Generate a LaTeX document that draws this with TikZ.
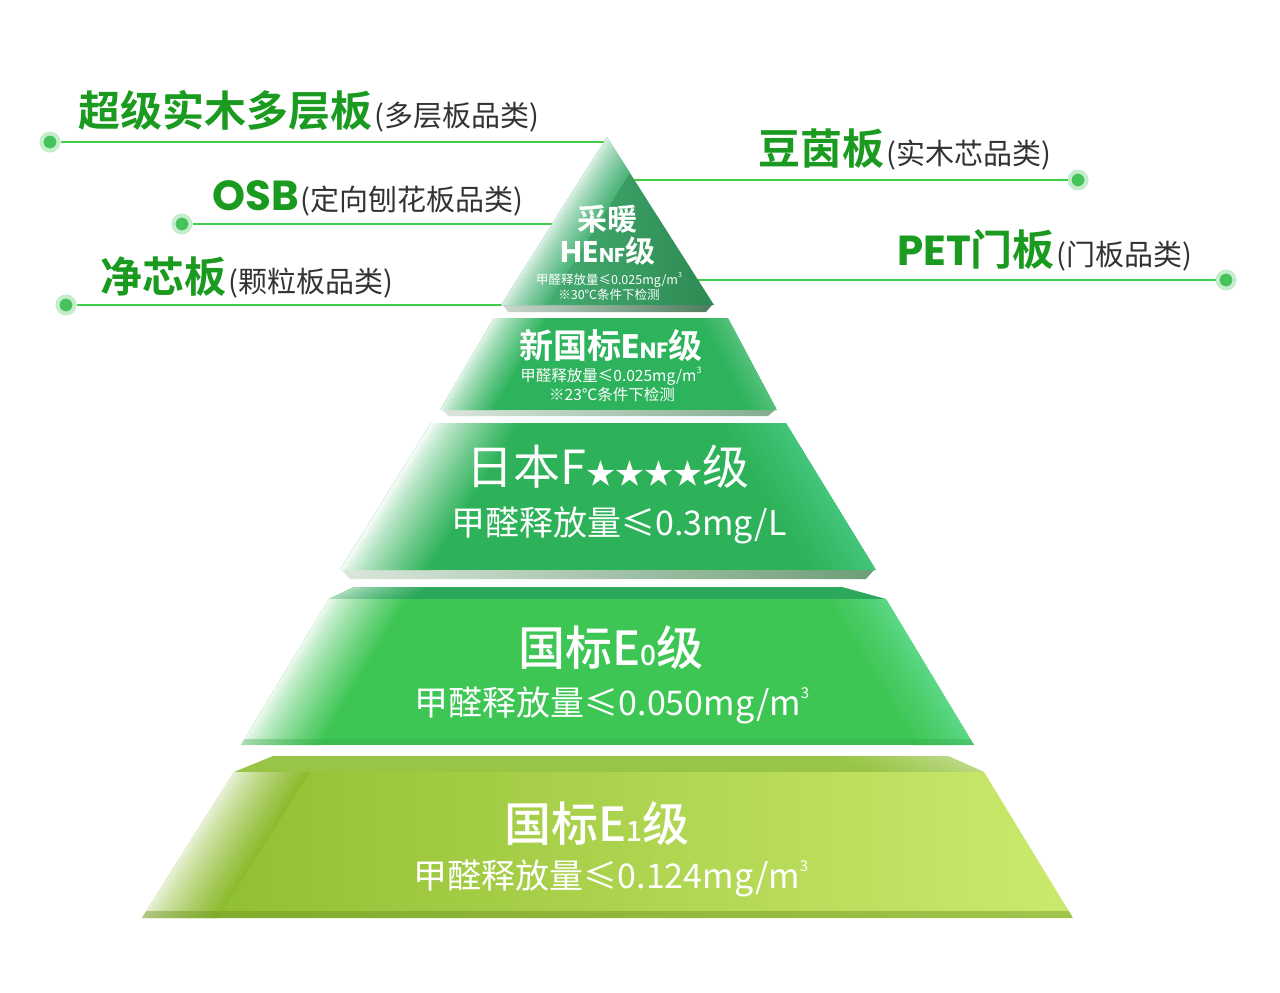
\documentclass[tikz,border=0pt]{standalone}
\usepackage{fontspec}
\setmainfont{Noto Sans CJK SC}
\newfontfamily\cjkb{Noto Sans CJK SC Bold}
\newfontfamily\cjkm{Noto Sans CJK SC Medium}
\newfontfamily\pop{Poppins}
\definecolor{lblg}{HTML}{1A9A1F}
\definecolor{lineg}{HTML}{3DCF45}
\definecolor{dotg}{HTML}{45C25A}
\definecolor{doth}{HTML}{C4EDCB}
\definecolor{subgray}{HTML}{333333}
\definecolor{tia}{HTML}{4DB57A}
\definecolor{tib}{HTML}{2C8A52}
\definecolor{tii}{HTML}{2EB35D}
\definecolor{tiii}{HTML}{2DB259}
\definecolor{tiiir}{HTML}{43C67C}
\definecolor{tivtop}{HTML}{2BA85B}
\definecolor{tiv}{HTML}{3EC655}
\definecolor{tivr}{HTML}{5CD888}
\definecolor{tvtop}{HTML}{98C545}
\definecolor{tvl}{HTML}{8CBB2E}
\definecolor{tv}{HTML}{A9D93E}
\definecolor{tvr}{HTML}{CBEA6D}
\definecolor{shi}{HTML}{4E7C5D}
\definecolor{shii}{HTML}{84AC8E}
\definecolor{shiii}{HTML}{6E9E77}
% strips along a slanted edge: #1 x at top, #2 top y, #3 x at bottom, #4 bottom y,
% #5 width (signed), #6 inner colour, #7 edge colour
\newcommand\fadeedge[7]{%
  \colorlet{fbase}{#6}\colorlet{fedge}{#7}%
  \foreach \i in {0,...,29}{%
    \pgfmathsetmacro\fa{#5*\i/30}%
    \pgfmathsetmacro\fb{#5*(\i+1.4)/30}%
    \pgfmathtruncatemacro\fm{100*(\i/29)^0.8}%
    \fill[fbase!\fm!fedge] (#1+\fa,#2) -- (#1+\fb,#2) -- (#3+\fb,#4) -- (#3+\fa,#4) -- cycle;
  }}
\tikzset{
  dot/.style={circle, fill=dotg, draw=doth, line width=4pt, minimum size=17pt, inner sep=0pt},
  conn/.style={draw=lineg, line width=1.8pt},
  lbl/.style={inner sep=0pt, anchor=base west},
  wt/.style={text=white, inner sep=0pt, anchor=center}
}
\newcommand\sublbl[1]{{\color{subgray}\fontsize{29}{29}\selectfont\hspace{2pt}(#1)}}
\newcommand\cubic[1]{m\raisebox{0.5em}{\fontsize{#1}{#1}\selectfont 3}}
\begin{document}
\begin{tikzpicture}[x=1pt,y=-1pt]
\useasboundingbox (0,0) rectangle (1280,993);
\fill[white] (0,0) rectangle (1280,993);

% connector end points on the pyramid
\coordinate (p1) at (604,142);
\coordinate (p2) at (552,224);
\coordinate (p3) at (502,305);
\coordinate (p4) at (634,180);
\coordinate (p5) at (698,280);

% dots
\node[dot] (d1) at (50,142) {};
\node[dot] (d2) at (182,224) {};
\node[dot] (d3) at (66,305) {};
\node[dot] (d4) at (1078,180) {};
\node[dot] (d5) at (1226,280) {};

\draw[conn] (d1) -- (p1);
\draw[conn] (d2) -- (p2);
\draw[conn] (d3) -- (p3);
\draw[conn] (d4) -- (p4);
\draw[conn] (d5) -- (p5);

% labels
\node[lbl] (L1) at (78,126) {{\cjkb\color{lblg}\fontsize{42}{42}\selectfont 超级实木多层板}\sublbl{多层板品类}};
\node[lbl] (L2) at (212,210) {{\pop\bfseries\color{lblg}\fontsize{42}{42}\selectfont OSB}\sublbl{定向刨花板品类}};
\node[lbl] (L3) at (100,292) {{\cjkb\color{lblg}\fontsize{42}{42}\selectfont 净芯板}\sublbl{颗粒板品类}};
\node[lbl] (L4) at (758,164) {{\cjkb\color{lblg}\fontsize{42}{42}\selectfont 豆茵板}\sublbl{实木芯品类}};
\node[lbl] (L5) at (897,265) {{\pop\bfseries\color{lblg}\fontsize{42}{42}\selectfont PET}{\cjkb\color{lblg}\fontsize{42}{42}\selectfont 门板}\sublbl{门板品类}};

% ---- tier 5
\begin{scope}
\clip (273,756) -- (948,756) -- (984,772) -- (234,772) -- cycle;
\fill[tvtop] (234,756) rectangle (984,772);
\fadeedge{948}{756}{984}{772}{-120}{tvtop}{tvtop!65!white}
\end{scope}
\begin{scope}
\clip (234,772) -- (984,772) -- (1073,918) -- (142,918) -- cycle;
\shade[left color=tvl, middle color=tv, right color=tvr] (142,772) rectangle (1073,918);
\fadeedge{234}{772}{142}{918}{75}{tvl}{tvl!20!white}
\fill[tvl!80!black, opacity=0.45] (142,911) rectangle (1073,918);
\end{scope}

% ---- tier 4
\begin{scope}
\clip (354,587) -- (842,587) -- (886,599) -- (329,599) -- cycle;
\fill[tivtop] (329,587) rectangle (886,599);
\fadeedge{354}{587}{329}{599}{80}{tivtop}{tivtop!40!white}
\end{scope}
\begin{scope}
\clip (329,599) -- (886,599) -- (974,745) -- (241,745) -- cycle;
\fill[tiv] (241,599) rectangle (974,745);
\fadeedge{329}{599}{241}{745}{80}{tiv}{tiv!10!white}
\fadeedge{886}{599}{974}{745}{-60}{tiv}{tivr}
\fill[tiv!85!black, opacity=0.35] (241,739) rectangle (974,745);
\end{scope}

% ---- tier 3
\shade[left color=shiii!25!white, right color=shiii] (342,570) -- (874,570) -- (866,579) -- (350,579) -- cycle;
\begin{scope}
\clip (431,423) -- (786,423) -- (876,570) -- (340,570) -- cycle;
\fill[tiii] (340,423) rectangle (876,570);
\fadeedge{431}{423}{340}{570}{90}{tiii}{tiii!5!white}
\fadeedge{786}{423}{876}{570}{-70}{tiii}{tiiir}
\end{scope}

% ---- tier 2
\shade[left color=shii!30!white, right color=shii] (442,410) -- (775,410) -- (768,416) -- (448,416) -- cycle;
\begin{scope}
\clip (494,318) -- (728,318) -- (777,410) -- (440,410) -- cycle;
\fill[tii] (440,318) rectangle (777,410);
\fadeedge{494}{318}{440}{410}{55}{tii}{tii!15!white}
\fadeedge{728}{318}{777}{410}{-30}{tii}{tii!80!white}
\end{scope}

% ---- tier 1
\shade[left color=shi!30!white, right color=shi] (503,305) -- (712,305) -- (706,312) -- (508,312) -- cycle;
\begin{scope}
\clip (607,137) -- (714,305) -- (501,305) -- cycle;
\shade[left color=tia, right color=tib] (501,137) rectangle (714,305);
\fadeedge{607}{137}{501}{305}{45}{tia}{tia!20!white}
\end{scope}

% ---- texts on the tiers
\node[wt] (a1) at (607,219) {\cjkb\fontsize{30}{30}\selectfont 采暖};
\node[wt] (a2) at (608,251) {{\pop\bfseries\fontsize{30}{30}\selectfont HE}{\pop\bfseries\fontsize{20}{20}\selectfont NF}{\cjkb\fontsize{30}{30}\selectfont 级}};
\node[wt] (a3) at (609,280) {\fontsize{12.5}{12.5}\selectfont 甲醛释放量≤0.025mg/\cubic{7}};
\node[wt] (a4) at (609,295) {\fontsize{12.5}{12.5}\selectfont ※30℃条件下检测};

\node[wt] (b1) at (611,346) {{\cjkb\fontsize{34}{34}\selectfont 新国标}{\pop\bfseries\fontsize{34}{34}\selectfont E}{\pop\bfseries\fontsize{22}{22}\selectfont NF}{\cjkb\fontsize{34}{34}\selectfont 级}};
\node[wt] (b2) at (611,376) {\fontsize{15.5}{15.5}\selectfont 甲醛释放量≤0.025mg/\cubic{9}};
\node[wt] (b3) at (612,395) {\fontsize{15.5}{15.5}\selectfont ※23℃条件下检测};

\node[wt] (c1) at (608,467) {{\fontsize{47}{47}\selectfont 日本F}{\fontsize{29}{29}\selectfont ★★★★}{\fontsize{47}{47}\selectfont 级}};
\node[wt] (c2) at (619,525) {\fontsize{34}{34}\selectfont 甲醛释放量≤0.3mg/L};

\node[wt] (e1) at (611,648) {{\cjkm\fontsize{47}{47}\selectfont 国标E}{\cjkm\fontsize{28}{28}\selectfont 0}{\cjkm\fontsize{47}{47}\selectfont 级}};
\node[wt] (e2) at (612,705) {\fontsize{34}{34}\selectfont 甲醛释放量≤0.050mg/\cubic{15}};

\node[wt] (f1) at (597,824) {{\cjkm\fontsize{47}{47}\selectfont 国标E}{\cjkm\fontsize{28}{28}\selectfont 1}{\cjkm\fontsize{47}{47}\selectfont 级}};
\node[wt] (f2) at (611,878) {\fontsize{34}{34}\selectfont 甲醛释放量≤0.124mg/\cubic{15}};
\end{tikzpicture}
\end{document}
